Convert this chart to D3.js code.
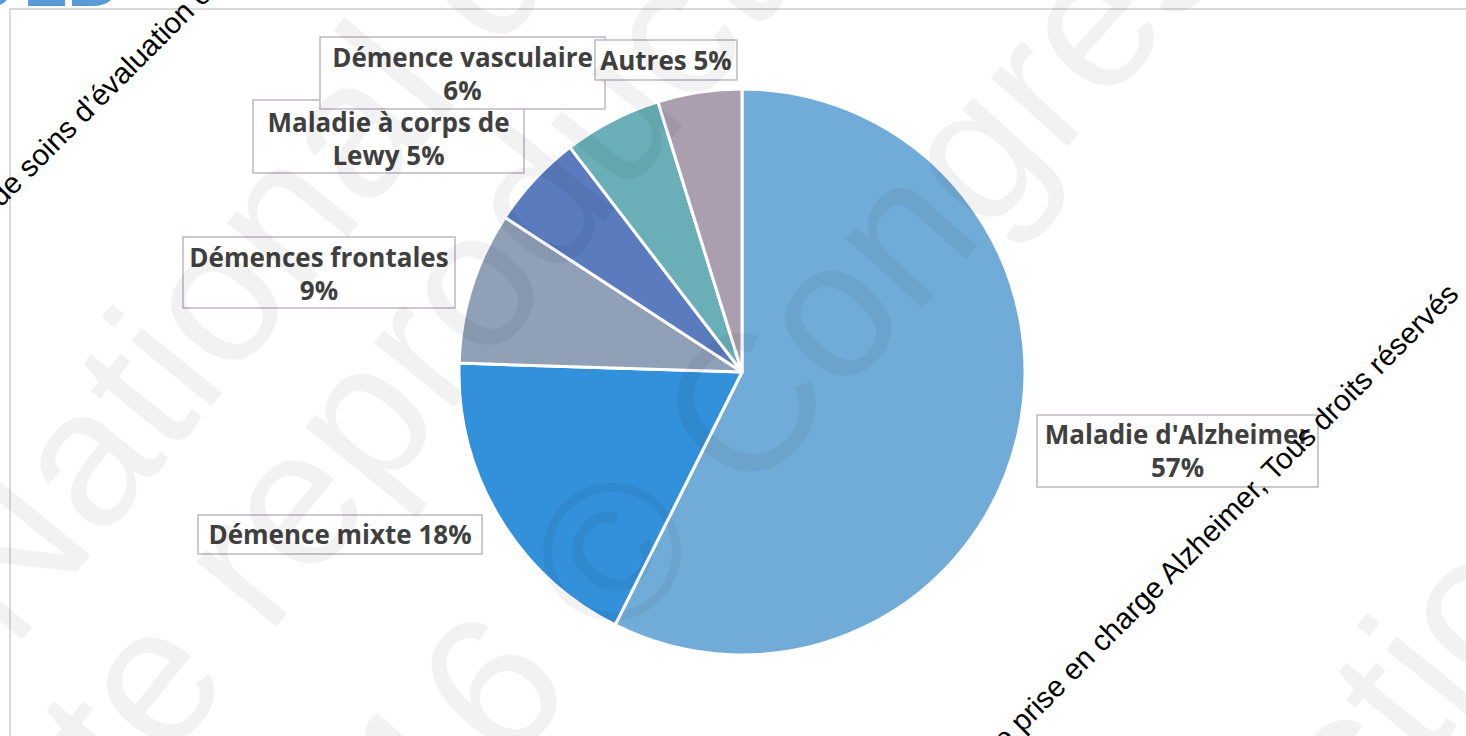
<!DOCTYPE html>
<html>
<head>
<meta charset="utf-8">
<script src="https://cdn.jsdelivr.net/npm/d3@7"></script>
<style>
  html, body { margin: 0; padding: 0; background: #fff; overflow: hidden; }
  svg { display: block; }
</style>
</head>
<body>
<div id="chart"></div>
<script>
// pie data, clockwise from 12 o'clock
const categories = ["Maladie d'Alzheimer", "Démence mixte", "Démences frontales",
  "Maladie à corps de Lewy", "Démence vasculaire", "Autres"];
const values = [57.4, 18.1, 8.7, 5.4, 5.6, 4.8];
const sliceColors = ["#71acd9", "#3390db", "#8fa0b7", "#5a7bbd", "#6aafb8", "#ab9faf"];

// manual label boxes (Excel style), number of words on first line
const labelBoxes = [
  {x: 1037, y: 415, w: 281, h: 72, breakAfter: 2, dy: 0},
  {x: 198, y: 515, w: 284, h: 39, breakAfter: 0, dy: 0},
  {x: 183, y: 237, w: 272, h: 71, breakAfter: 2, dy: 1},
  {x: 253, y: 100, w: 271, h: 73, breakAfter: 4, dy: 3},
  {x: 320, y: 37, w: 285, h: 72, breakAfter: 2, dy: 1},
  {x: 595, y: 40, w: 142, h: 40, breakAfter: 0, dy: 1}
];

const width = 1466, height = 736;
const cx = 742, cy = 372, radius = 283;

const svg = d3.select('#chart').append('svg')
  .attr('width', width)
  .attr('height', height);

// slide frame + cut logo at the top
svg.append('path')
  .attr('d', 'M10,736 L10,9 L1466,9')
  .attr('fill', 'none')
  .attr('stroke', '#dadada')
  .attr('stroke-width', 2);
const logo = svg.append('g').attr('fill', '#5b9bd5');
logo.append('path').attr('d', 'M-30,-20 L10,-20 L10,-8 Q8,4 -4,6 L-30,6 Z');
logo.append('rect').attr('x', 28).attr('y', -20).attr('width', 37).attr('height', 26);
logo.append('path').attr('d', 'M72,-20 L118,-20 L118,-10 Q112,6 92,6 L72,6 Z');

// pie
const pie = d3.pie().sort(null).value(d => d);
const arc = d3.arc().innerRadius(0).outerRadius(radius);

svg.append('g')
  .attr('transform', `translate(${cx},${cy})`)
  .selectAll('path')
  .data(pie(values))
  .enter()
  .append('path')
  .attr('d', arc)
  .attr('fill', (d, i) => sliceColors[i])
  .attr('stroke', '#fff')
  .attr('stroke-width', 3)
  .attr('stroke-linejoin', 'round');

// data labels
const labels = svg.append('g');
categories.forEach((cat, i) => {
  const b = labelBoxes[i];
  const words = `${cat} ${Math.round(values[i])}%`.split(' ');
  const lines = b.breakAfter ? [words.slice(0, b.breakAfter).join(' '), words.slice(b.breakAfter).join(' ')]
    : [words.join(' ')];
  const g = labels.append('g');
  g.append('rect')
    .attr('x', b.x).attr('y', b.y)
    .attr('width', b.w).attr('height', b.h)
    .attr('fill', '#fff')
    .attr('stroke', '#bdb6c3')
    .attr('stroke-width', 1.5);
  lines.forEach((ln, j) => {
    g.append('text')
      .attr('x', b.x + b.w / 2)
      .attr('y', b.y + 29 + b.dy + j * 33)
      .attr('text-anchor', 'middle')
      .attr('font-family', '"Open Sans", sans-serif')
      .attr('font-weight', 700)
      .attr('font-size', 26)
      .attr('fill', '#404040')
      .text(ln);
  });
});

// watermarks: text rotated, anchored at the end of a prefix
function measure(str, font, size) {
  const t = svg.append('text')
    .attr('font-family', font).attr('font-size', size)
    .style('white-space', 'pre')
    .text(str);
  const w = t.node().getComputedTextLength();
  t.remove();
  return w;
}

function watermark(spec, font, size, fill, opacity) {
  const off = measure(spec.prefix, font, size);
  svg.append('text')
    .attr('transform', `translate(${spec.x},${spec.y}) rotate(${spec.angle})`)
    .attr('x', -off)
    .attr('font-family', font)
    .attr('font-size', size)
    .attr('fill', fill)
    .attr('fill-opacity', opacity)
    .style('white-space', 'pre')
    .text(spec.text);
}

const bigMarks = [
  {text: "Congrès National des", prefix: "Congrès ", x: 12, y: 652, angle: -51},
  {text: "Toute reproduction interdite", prefix: "Toute ", x: 268, y: 637, angle: -51},
  {text: "2016 © Congrès National", prefix: "2016 ", x: 614, y: 650, angle: -48},
  {text: "Toute reproduction interdite", prefix: "Toute reproduc", x: 1424, y: 767, angle: -51}
];
bigMarks.forEach(m => watermark(m, '"Liberation Sans", Arial, sans-serif', 195, '#000', 0.05));

const phrase = "Congrès National des Unités de soins d’évaluation et de prise en charge Alzheimer, Tous droits réservés";
const smallMarks = [
  {text: phrase, prefix: "Congrès National des Unités ", x: 1, y: 208, angle: -45},
  {text: phrase, prefix: "Congrès National des Unités de soins d’évaluation et de prise en charge ", x: 1172, y: 584, angle: -45}
];
smallMarks.forEach(m => watermark(m, '"Liberation Sans", Arial, sans-serif', 29.5, '#000', 1));
</script>
</body>
</html>
